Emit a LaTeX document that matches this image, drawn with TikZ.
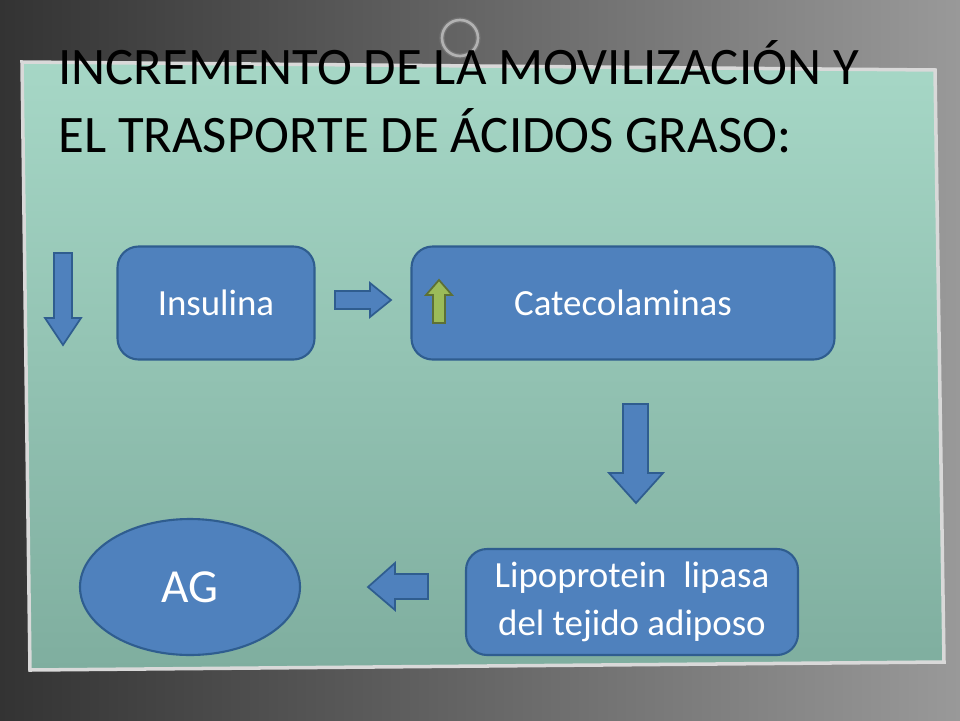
\documentclass[tikz,border=0pt]{standalone}
\usepackage{fontspec}
\setmainfont{Carlito}
\usetikzlibrary{shapes.geometric}
\definecolor{boxblue}{HTML}{4F81BD}
\definecolor{boxline}{HTML}{2F5D8F}
\definecolor{papertop}{HTML}{A6D7C6}
\definecolor{paperbot}{HTML}{7FAE9F}
\definecolor{upgreen}{HTML}{9BBB59}
\tikzset{
  box/.style={draw=boxline, line width=1.2pt, fill=boxblue, rounded corners=12pt, text=white, font=\fontsize{21}{27}\selectfont, align=center},
  blk/.style={draw=boxline, line width=1pt, fill=boxblue},
}
\begin{document}
\begin{tikzpicture}[x=0.02cm, y=-0.02cm]
	% Background and paper:
	\shade[left color=black!80, right color=black!40] (0,0) rectangle (960,720);
	\useasboundingbox (0,0) rectangle (960,720);
	\shade[top color=papertop, bottom color=paperbot, draw=white!85!black, line width=2pt]
		(22,62) -- (935,70) -- (944,662) -- (30,670) -- cycle;
	\draw[black!55, line width=3pt] (460,38) circle (18);
	\draw[black!30, line width=1.5pt] (460,38) circle (18);
	% Title:
	\node[anchor=north west, align=left, inner sep=0pt, font=\fontsize{30}{38.5}\selectfont] (title) at (58,40)
		{INCREMENTO DE LA MOVILIZACIÓN Y\\EL TRASPORTE DE ÁCIDOS GRASO:};
	% Boxes:
	\node[box, minimum width=197*0.02cm, minimum height=113*0.02cm] (ins) at (216,303) {Insulina};
	\node[box, minimum width=423*0.02cm, minimum height=113*0.02cm] (cat) at (623,303) {Catecolaminas};
	\node[box, minimum width=332*0.02cm, minimum height=106*0.02cm] (lpl) at (632,602) {Lipoprotein~ lipasa\\del tejido adiposo};
	\node[ellipse, draw=boxline, line width=1.2pt, fill=boxblue, text=white, font=\fontsize{27}{30}\selectfont,
		minimum width=220*0.02cm, minimum height=136*0.02cm] (ag) at (190,587) {AG};
	% Block arrows:
	\draw[blk] (54,253) -- (72,253) -- (72,318) -- (81,318) -- (63,345) -- (45,318) -- (54,318) -- cycle;
	\draw[blk] (335,291) -- (370,291) -- (370,283) -- (391,300) -- (370,317) -- (370,309) -- (335,309) -- cycle;
	\draw[draw=upgreen!60!black, line width=1pt, fill=upgreen] (433,323) -- (445,323) -- (445,295) -- (452,295) -- (439,280) -- (426,295) -- (433,295) -- cycle;
	\draw[blk] (623,404) -- (648,404) -- (648,473) -- (663,473) -- (636,503) -- (609,473) -- (623,473) -- cycle;
	\draw[blk] (428,574) -- (395,574) -- (395,563) -- (368,587) -- (395,610) -- (395,599) -- (428,599) -- cycle;
\end{tikzpicture}
\end{document}
